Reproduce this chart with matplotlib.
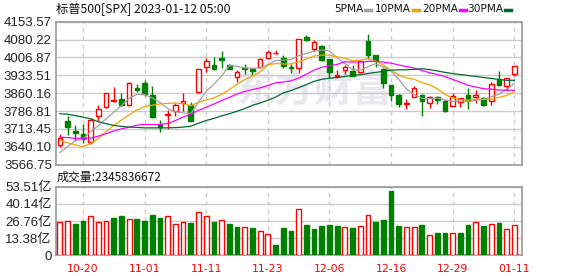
import numpy as np
import pandas as pd
import matplotlib
matplotlib.use('Agg')
import matplotlib.pyplot as plt
from matplotlib.lines import Line2D
from matplotlib.patches import Rectangle

# daily OHLC (2022-10-17 .. 2023-01-11)
opens = [3647.9, 3748.0, 3704.7, 3691.0, 3661.4, 3765.6, 3803.4, 3829.0, 3835.8, 3811.5,
         3883.2, 3900.8, 3853.4, 3731.7, 3771.0, 3785.8, 3818.3, 3812.9, 3864.3, 3968.3,
         3977.8, 4006.2, 3975.1, 3925.1, 3964.3, 3958.9, 3968.3, 4004.9, 4024.5, 4006.2,
         3968.3, 3961.6, 4091.4, 4042.7, 4052.2, 3999.4, 3931.9, 3954.8, 3952.1, 3945.4,
         4072.4, 4015.7, 3958.9, 3894.0, 3853.4, 3816.9, 3845.3, 3853.4, 3819.6, 3844.0,
         3829.1, 3808.8, 3823.7, 3853.4, 3842.6, 3839.9, 3829.1, 3918.3, 3891.3, 3937.3]
highs = [3691.2, 3765.6, 3727.7, 3735.8, 3758.8, 3812.9, 3862.9, 3887.2, 3860.2, 3904.8,
         3896.7, 3914.3, 3890.0, 3752.0, 3792.6, 3819.6, 3860.2, 3824.0, 3960.0, 4004.9,
         4010.3, 4031.9, 3981.9, 3954.8, 3981.9, 3961.6, 4006.2, 4036.0, 4037.3, 4015.7,
         3981.9, 4083.3, 4100.8, 4079.2, 4056.2, 4002.2, 3954.8, 3977.8, 3977.8, 3995.4,
         4103.5, 4018.0, 3964.3, 3894.0, 3856.1, 3837.2, 3890.0, 3856.1, 3846.7, 3849.4,
         3833.2, 3860.2, 3841.0, 3883.2, 3872.4, 3842.6, 3904.8, 3950.8, 3923.0, 3972.5]
lows = [3639.8, 3688.5, 3664.0, 3657.4, 3653.3, 3745.3, 3800.7, 3823.7, 3806.1, 3808.8,
        3864.2, 3846.7, 3758.0, 3702.0, 3711.5, 3765.5, 3785.8, 3745.3, 3862.9, 3948.0,
        3957.0, 3961.6, 3957.5, 3907.5, 3937.3, 3934.6, 3965.6, 4002.2, 4022.0, 3964.3,
        3941.3, 3941.3, 4072.4, 4031.9, 3991.3, 3921.0, 3923.8, 3937.3, 3930.5, 3941.3,
        4002.2, 3968.3, 3883.2, 3829.1, 3802.0, 3796.6, 3842.6, 3765.5, 3799.3, 3815.6,
        3781.8, 3806.1, 3802.0, 3796.6, 3818.0, 3806.1, 3810.2, 3890.0, 3869.7, 3931.9]
closes = [3677.7, 3721.0, 3696.6, 3670.9, 3750.7, 3795.3, 3860.2, 3831.8, 3810.2, 3900.8,
          3872.4, 3857.5, 3761.5, 3721.0, 3773.7, 3810.2, 3829.1, 3748.0, 3957.5, 3992.7,
          3958.9, 3996.8, 3958.9, 3945.4, 3960.0, 3952.1, 4002.2, 4027.3, 4026.1, 3972.4,
          3961.6, 4080.6, 4076.6, 4069.7, 3998.1, 3945.4, 3934.6, 3968.3, 3931.9, 3991.3,
          4018.4, 3995.4, 3900.8, 3853.4, 3816.9, 3819.6, 3880.5, 3826.4, 3844.0, 3830.4,
          3785.8, 3846.7, 3839.9, 3826.4, 3853.4, 3810.2, 3898.1, 3894.0, 3921.0, 3971.1]
# volume in 亿
volumes = [25.6, 26.4, 24.3, 26.6, 30.3, 25.6, 27.1, 29.0, 30.5, 28.7,
           28.2, 26.6, 31.3, 29.0, 30.3, 24.8, 25.6, 25.1, 33.4, 30.3,
           25.8, 27.9, 24.3, 21.9, 22.4, 21.1, 19.3, 17.0, 7.8, 21.1,
           18.8, 36.5, 23.5, 20.4, 22.7, 23.5, 22.7, 21.7, 21.1, 22.7,
           31.3, 25.8, 27.4, 50.1, 22.7, 21.7, 21.7, 23.5, 15.7, 17.2,
           17.2, 17.2, 17.2, 23.5, 25.6, 22.7, 24.8, 25.1, 20.9, 23.46]

# moving averages at the left edge (they depend on days before the window)
ma5_head = [3617, 3641, 3665, 3672]
ma10_head = [3667, 3657, 3648, 3641, 3653, 3675, 3703, 3728, 3750]
ma20_head = [3680, 3678, 3675, 3675, 3676, 3684, 3694, 3705, 3714, 3721,
             3729, 3732, 3732, 3732, 3736, 3748, 3762, 3774, 3790]
ma30_head = [3776, 3774, 3768, 3762, 3755, 3743, 3735, 3728, 3724, 3721,
             3720, 3718, 3718, 3718, 3718, 3719, 3721, 3725, 3737, 3748,
             3757, 3767, 3776, 3786, 3797, 3810, 3820, 3831, 3844]

price_ticks = [3566.75, 3640.10, 3713.45, 3786.81, 3860.16, 3933.51, 4006.87, 4080.22, 4153.57]
vol_ticks = [0, 13.38, 26.76, 40.14, 53.51]
vol_labels = ['0', '13.38亿', '26.76亿', '40.14亿', '53.51亿']
date_idx = [3, 11, 19, 27, 35, 43, 51, 59]
date_labels = ['10-20', '11-01', '11-11', '11-23', '12-06', '12-16', '12-29', '01-11']
ma_names = ['5PMA', '10PMA', '20PMA', '30PMA']
ma_colors = ['#a0a0a0', '#f5a300', '#ff00ff', '#006a30']

RED = '#ff0000'
GREEN = '#008000'
GRID = '#cccccc'
FRAME = '#999999'
NARROW = ['DejaVu Sans']
CJK = ['Noto Sans CJK SC', 'DejaVu Sans']
NUM = ['Liberation Sans', 'Noto Sans CJK SC']


def moving_avg(vals, n, head):
    ma = pd.Series(vals).rolling(n).mean().to_numpy()
    ma[:len(head)] = head
    return ma


W, H = 578, 276
fig = plt.figure(figsize=(W / 100, H / 100), dpi=100)


def box(l, t, r, b):
    return [l / W, 1 - b / H, (r - l) / W, (b - t) / H]


ax = fig.add_axes(box(56, 21.7, 522, 164.7))
ax2 = fig.add_axes(box(56, 186.7, 522, 255.3))

x = np.arange(len(closes))

# watermark
ax.text(33, 3870, '东方财富', fontsize=28, fontweight='bold', color='#e8e8ee',
        family=CJK, ha='center', va='center', zorder=0)

# candles
for i in range(len(closes)):
    o, h, l, c = opens[i], highs[i], lows[i], closes[i]
    up = c >= o
    col = RED if up else GREEN
    ax.vlines(i, l, h, color=col, lw=1.0, zorder=2)
    bot = min(o, c)
    hgt = max(abs(c - o), 0.5)
    ax.add_patch(Rectangle((i - 0.3, bot), 0.6, hgt,
                           facecolor='white' if up else GREEN,
                           edgecolor=col, lw=1.0, zorder=3))

ma_series = [moving_avg(closes, 5, ma5_head), moving_avg(closes, 10, ma10_head),
             moving_avg(closes, 20, ma20_head), moving_avg(closes, 30, ma30_head)]
for vals, col in zip(ma_series, ma_colors):
    ax.plot(x, vals, color=col, lw=0.9, zorder=4)

ax.set_xlim(-0.5, 60)
ax.set_ylim(price_ticks[0], price_ticks[-1])
ax.set_yticks(price_ticks)
ax.set_yticklabels(['%.2f' % v for v in price_ticks], family=NUM, fontsize=9.5, color='#222222')
ax.set_xticks(date_idx)
ax.set_xticklabels([])

# volume bars, coloured by change from previous close
prev = [opens[0]] + closes[:-1]
face, edge = [], []
for c, p in zip(closes, prev):
    if c >= p:
        face.append('white')
        edge.append(RED)
    else:
        face.append(GREEN)
        edge.append(GREEN)
ax2.bar(x, volumes, width=0.62, color=face, edgecolor=edge, lw=1.0, zorder=3)
ax2.set_xlim(-0.5, 60)
ax2.set_ylim(0, vol_ticks[-1])
ax2.set_yticks(vol_ticks)
ax2.set_yticklabels(vol_labels, family=NUM, fontsize=9.5, color='#222222')
ax2.set_xticks(date_idx)
ax2.set_xticklabels(date_labels, family=NARROW, fontsize=7.8, color=RED)

for a in (ax, ax2):
    a.grid(axis='y', color=GRID, lw=1.0, zorder=0)
    a.grid(axis='x', color=GRID, lw=1.0, ls=(0, (3, 3)), zorder=0)
    a.tick_params(length=0, pad=3)
    for s in a.spines.values():
        s.set_color(FRAME)
        s.set_linewidth(1.2)
ax2.tick_params(axis='x', pad=6)

# header texts
fig.text(56 / W, 1 - 9 / H, '标普500[SPX] 2023-01-12 05:00', family=CJK,
         fontsize=8.8, va='center', ha='left', color='#111111')
fig.text(57 / W, 1 - 177 / H, '成交量:2345836672', family=CJK,
         fontsize=8.6, va='center', ha='left', color='#111111')

# legend: name followed by a short coloured dash
mark_px = [365, 413, 460, 505]
for name, col, mx in zip(ma_names, ma_colors, mark_px):
    fig.text((mx - 2) / W, 1 - 9 / H, name, family=NARROW, fontsize=7.6,
             va='center', ha='right', color='#111111')
    fig.add_artist(Line2D([mx / W, (mx + 6) / W], [1 - 9.5 / H, 1 - 9.5 / H],
                          color=col, lw=2.5, transform=fig.transFigure))

fig.savefig('out.png', dpi=100)
